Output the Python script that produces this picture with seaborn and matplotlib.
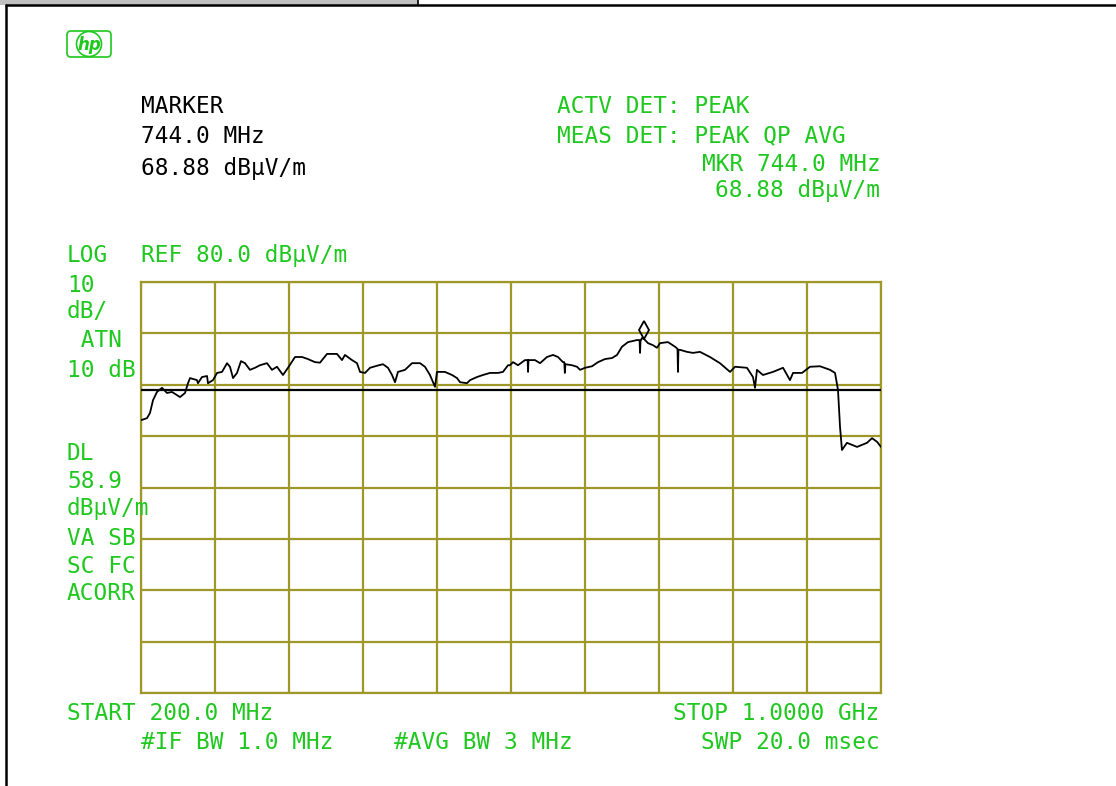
import matplotlib

matplotlib.use("Agg")
import matplotlib.pyplot as plt
import matplotlib.transforms as mtransforms
import numpy as np
import pandas as pd
import seaborn as sns
from matplotlib.patches import Ellipse, FancyBboxPatch, Rectangle

# trace (MHz, dBuV/m)
freq_mhz = [
    200.0, 206.5, 209.7, 213.0, 217.3, 222.7, 228.1, 233.5, 242.2, 247.6,
    250.8, 253.0, 260.5, 261.6, 265.9, 271.4, 272.4, 277.8, 282.2, 287.6,
    293.0, 296.2, 299.5, 303.8, 308.1, 312.4, 317.8, 323.2, 328.6, 336.2,
    341.6, 347.0, 353.5, 358.9, 366.5, 374.1, 380.5, 388.1, 393.5, 401.1,
    411.9, 417.3, 420.5, 428.1, 433.5, 436.8, 442.2, 447.6, 455.1, 461.6,
    467.0, 471.4, 474.6, 477.8, 485.4, 493.0, 501.6, 507.0, 512.4, 515.7,
    517.8, 520.0, 523.2, 528.6, 536.2, 541.6, 544.9, 552.4, 555.7, 563.2,
    569.7, 577.3, 585.9, 591.3, 596.8, 598.9, 602.2, 607.6, 615.1, 618.0,
    618.4, 618.9, 625.9, 631.4, 638.9, 645.4, 650.8, 656.2, 657.6, 658.2,
    658.8, 665.9, 671.4, 674.6, 680.0, 687.6, 694.1, 701.6, 709.2, 714.6,
    720.0, 726.5, 736.2, 739.0, 739.5, 740.0, 741.6, 744.0, 748.1, 753.5,
    757.8, 761.1, 769.7, 777.3, 780.0, 780.5, 781.0, 782.7, 790.3, 796.8,
    804.3, 815.1, 825.9, 836.8, 842.2, 855.1, 861.6, 863.8, 865.9, 872.4,
    883.2, 894.1, 901.6, 904.9, 914.6, 923.2, 934.1, 944.9, 950.3, 953.5,
    955.7, 957.8, 963.2, 974.1, 984.9, 990.3, 995.7, 1000.0,
]
level_dbuv = [
    53.1, 53.5, 54.5, 57.0, 58.6, 59.4, 58.4, 58.6, 57.6, 58.4,
    60.3, 61.3, 60.9, 60.3, 61.5, 61.7, 60.3, 60.9, 62.3, 62.5,
    64.2, 63.5, 61.3, 62.3, 64.6, 64.2, 62.9, 63.3, 63.8, 64.2,
    62.9, 63.5, 61.9, 63.3, 65.4, 65.4, 65.0, 64.4, 64.3, 66.0,
    66.0, 64.8, 65.8, 64.8, 64.2, 62.5, 62.3, 63.3, 63.7, 64.0,
    63.3, 61.9, 60.5, 62.5, 62.9, 64.2, 64.2, 63.5, 61.9, 60.5,
    59.6, 62.5, 62.5, 62.5, 61.9, 61.3, 60.5, 60.3, 60.9, 61.5,
    61.9, 62.3, 62.3, 62.5, 63.8, 63.8, 64.4, 63.8, 64.8, 64.8,
    62.5, 64.8, 64.8, 64.2, 65.4, 65.8, 65.4, 64.4, 64.4, 62.3,
    64.0, 63.8, 63.5, 62.9, 63.3, 63.6, 64.4, 65.0, 65.2, 65.8,
    67.4, 68.3, 68.7, 68.7, 66.2, 68.5, 69.1, 68.88, 68.1, 67.7,
    67.2, 68.1, 68.3, 67.4, 67.0, 62.5, 66.8, 66.8, 66.4, 66.2,
    66.4, 65.4, 64.2, 62.5, 63.5, 63.3, 61.5, 59.4, 62.9, 61.9,
    62.5, 63.3, 60.9, 62.3, 62.3, 63.5, 63.6, 62.9, 62.3, 59.0,
    51.8, 47.3, 48.7, 47.9, 48.7, 49.6, 48.9, 47.9,
]

marker_freq = 744.0
marker_level = 68.88
display_line = 58.9
ref_level = 80.0
db_per_div = 10
start_mhz, stop_mhz = 200.0, 1000.0

marker_lines = ["MARKER", "744.0 MHz", "68.88 dBμV/m"]
detector_lines = ["ACTV DET: PEAK", "MEAS DET: PEAK QP AVG"]
mkr_lines = ["MKR 744.0 MHz", "68.88 dBμV/m"]
left_upper = ["10", "dB/", " ATN", "10 dB"]
left_lower = ["DL", "58.9", "dBμV/m", "VA SB", "SC FC", "ACORR"]

W, H = 1116, 786
GREEN = "#1ec81e"
OLIVE = "#9e9828"
FS = 16.4

sns.set_theme(style="white")
plt.rcParams["font.family"] = ["DejaVu Sans Mono", "DejaVu Sans"]

fig = plt.figure(figsize=(W / 100, H / 100), dpi=100)

ax = fig.add_axes([141 / W, 1 - 693 / H, 740 / W, 411 / H])
df = pd.DataFrame({"freq": freq_mhz, "level": level_dbuv})
sns.lineplot(data=df, x="freq", y="level", ax=ax, color="black", lw=1.3,
             sort=False, estimator=None, zorder=4)
ax.axhline(display_line, color="black", lw=1.6, zorder=3)

# marker diamond sits just above the trace point
off = mtransforms.offset_copy(ax.transData, fig=fig, x=0, y=9, units="dots")
ax.plot([marker_freq], [marker_level], marker="d", ms=9, mfc="none",
        mec="black", mew=1.3, transform=off, clip_on=False, zorder=5)

ax.set_xlim(start_mhz, stop_mhz)
ax.set_ylim(ref_level - 8 * db_per_div, ref_level)
ax.set_xticks(np.linspace(start_mhz, stop_mhz, 11))
ax.set_yticks(np.arange(ref_level - 8 * db_per_div, ref_level + 1, db_per_div))
ax.tick_params(length=0, labelbottom=False, labelleft=False)
ax.set_xlabel("")
ax.set_ylabel("")
ax.grid(True, color=OLIVE, lw=1.6)
for s in ax.spines.values():
    s.set_color(OLIVE)
    s.set_linewidth(1.6)

# screen overlay in pixel units for the annotation text and frame
ov = fig.add_axes([0, 0, 1, 1], zorder=10)
ov.set_xlim(0, W)
ov.set_ylim(H, 0)
ov.axis("off")


def label(x, y, s, color=GREEN):
    ov.text(x, y, s, color=color, fontsize=FS, ha="left", va="baseline")


# frame of the screen dump
ov.add_patch(Rectangle((0, 0), 418, 4.5, color="#c0c0c0", lw=0))
ov.plot([6, W], [5, 5], color="black", lw=1.8)
ov.plot([418, 418], [0, 5], color="black", lw=1.2)
ov.plot([6, 6], [5, H], color="black", lw=1.8)

# hp logo
ov.add_patch(FancyBboxPatch((67, 31), 44, 26, boxstyle="round,pad=0,rounding_size=4",
                            fill=False, ec=GREEN, lw=1.2))
ov.add_patch(Ellipse((89, 44), 25, 25, fill=False, ec=GREEN, lw=1.2))
ov.text(89, 45, "hp", color=GREEN, fontsize=12, fontstyle="italic",
        fontweight="bold", family="DejaVu Sans", ha="center", va="center")

for i, s in enumerate(marker_lines):
    label(141, [113, 143, 175][i], s, color="black")
for i, s in enumerate(detector_lines):
    label(557, [113, 142][i], s)
label(702, 171, mkr_lines[0])
label(715, 197, mkr_lines[1])

label(67, 262, "LOG")
label(141, 262, "REF 80.0 dBμV/m")
for s, y in zip(left_upper, [292, 318, 347, 377]):
    label(67, y, s)
for s, y in zip(left_lower, [460, 488, 515, 545, 573, 600]):
    label(67, y, s)

label(67, 720, "START 200.0 MHz")
label(141, 749, "#IF BW 1.0 MHz")
label(394, 749, "#AVG BW 3 MHz")
label(673, 720, "STOP 1.0000 GHz")
label(701, 749, "SWP 20.0 msec")

fig.savefig("out.png", dpi=100)
